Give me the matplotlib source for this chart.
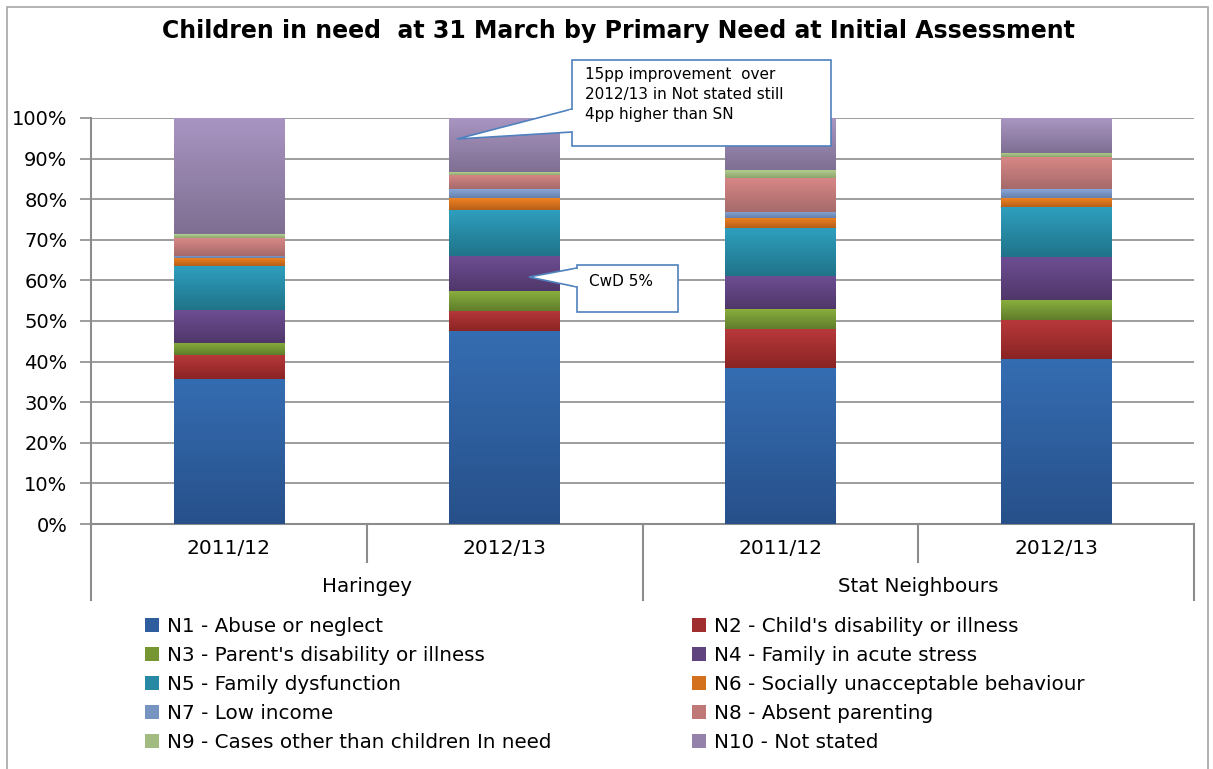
import numpy as np
import matplotlib
matplotlib.use("Agg")
import matplotlib.pyplot as plt
from matplotlib.patches import Patch, Rectangle, Polygon
from matplotlib.colors import to_rgb

plt.rcParams['font.family'] = ['DejaVu Sans']

# ---------------- data ----------------
title = "Children in need  at 31 March by Primary Need at Initial Assessment"
years = ["2011/12", "2012/13", "2011/12", "2012/13"]
groups = ["Haringey", "Stat Neighbours"]
series_names = [
    "N1 - Abuse or neglect",
    "N2 - Child's disability or illness",
    "N3 - Parent's disability or illness",
    "N4 - Family in acute stress",
    "N5 - Family dysfunction",
    "N6 - Socially unacceptable behaviour",
    "N7 - Low income",
    "N8 - Absent parenting",
    "N9 - Cases other than children In need",
    "N10 - Not stated",
]
N1 = [35.7, 47.5, 38.4, 40.6]
N2 = [5.9, 5.0, 9.6, 9.6]
N3 = [3.0, 4.9, 4.9, 4.9]
N4 = [8.2, 8.7, 8.3, 10.6]
N5 = [10.8, 11.3, 11.6, 12.3]
N6 = [2.0, 2.9, 2.5, 2.2]
N7 = [0.5, 2.2, 1.5, 2.2]
N8 = [4.4, 3.5, 8.4, 8.1]
N9 = [0.9, 0.7, 2.0, 1.0]
N10 = [28.6, 13.3, 12.8, 8.4]
series_values = [N1, N2, N3, N4, N5, N6, N7, N8, N9, N10]
yticks = [0, 10, 20, 30, 40, 50, 60, 70, 80, 90, 100]
ytick_labels = ["0%", "10%", "20%", "30%", "40%", "50%", "60%", "70%", "80%", "90%", "100%"]
note1 = "15pp improvement  over\n2012/13 in Not stated still\n4pp higher than SN"
note2 = "CwD 5%"

# gradient colours (top, bottom) for each series
top_cols = ["#356db2", "#b8383a", "#8aae3e", "#6e4e94", "#2e9fbe",
            "#f08222", "#88a6d8", "#d98886", "#b6d292", "#a995c2"]
bot_cols = ["#27508a", "#8a2424", "#5f7d2b", "#4f3769", "#207389",
            "#b65f1a", "#6680aa", "#a56a6a", "#8ea46e", "#7e6f92"]
mid_cols = ["#2e5e9e", "#a12e2e", "#769634", "#5f437f", "#2789a4",
            "#d3711e", "#7793c1", "#bf7978", "#a2bb80", "#9482aa"]

W, H = 1213, 769
fig = plt.figure(figsize=(W / 100, H / 100), dpi=100)

def fx(px):
    return px / W

def fy(py):
    return 1 - py / H

FS = 14.3

# outer chart border
fig.patches.append(Rectangle((fx(7), fy(790)), fx(1208) - fx(7), fy(7) - fy(790),
                             transform=fig.transFigure, fill=False,
                             edgecolor="#a6a6a6", linewidth=1.2))

L, R, T, B = 91, 1194, 118, 524
ax = fig.add_axes([fx(L), fy(B), fx(R) - fx(L), fy(T) - fy(B)])

x = np.arange(len(years)) + 0.5
bw = 0.40
bottom = np.zeros(len(years))
for i, vals in enumerate(series_values):
    bars = ax.bar(x, vals, bw, bottom=bottom, color=mid_cols[i], linewidth=0, zorder=2)
    c0 = np.array(to_rgb(top_cols[i]))
    c1 = np.array(to_rgb(bot_cols[i]))
    grad = np.linspace(0, 1, 256)[:, None]
    img = (c0[None, :] * (1 - grad) + c1[None, :] * grad)[:, None, :]
    for p in bars.patches:
        x0, y0 = p.get_x(), p.get_y()
        ax.imshow(img, extent=[x0, x0 + p.get_width(), y0, y0 + p.get_height()],
                  aspect="auto", origin="upper", zorder=3, interpolation="bilinear")
    bottom += np.array(vals)

ax.set_xlim(0, 4)
ax.set_ylim(0, 100)
ax.set_yticks(yticks)
ax.set_yticklabels(ytick_labels, fontsize=14)
ax.yaxis.grid(True, color="#8c8c8c", linewidth=1.2, zorder=0)
ax.set_axisbelow(True)
ax.tick_params(axis="y", length=8, width=1.2, color="#8c8c8c", pad=9)
ax.set_xticks([])
for s in ["top", "right"]:
    ax.spines[s].set_visible(False)
ax.spines["left"].set_color("#8c8c8c")
ax.spines["left"].set_linewidth(1.5)
ax.spines["bottom"].set_color("#8c8c8c")
ax.spines["bottom"].set_linewidth(1.5)

# multi-level category axis
tr = ax.transAxes
ppx = 1 / 406.0
ax.plot([0, 0], [0, -76 * ppx], color="#8c8c8c", lw=1.5, transform=tr, clip_on=False)
ax.plot([1, 1], [0, -76 * ppx], color="#8c8c8c", lw=1.5, transform=tr, clip_on=False)
ax.plot([0.5, 0.5], [0, -76 * ppx], color="#8c8c8c", lw=1.5, transform=tr, clip_on=False)
for xx in [0.25, 0.75]:
    ax.plot([xx, xx], [0, -38 * ppx], color="#8c8c8c", lw=1.5, transform=tr, clip_on=False)
for i, lab in enumerate(years):
    ax.text(x[i] / 4, -25 * ppx, lab, transform=tr, ha="center", va="center", fontsize=14.5)
for j, g in enumerate(groups):
    ax.text(0.25 + 0.5 * j, -63 * ppx, g, transform=tr, ha="center", va="center", fontsize=14.3)

# title
fig.text(fx(618), fy(31), title, ha="center", va="center", fontsize=17, fontweight="bold")

# callouts (figure pixel positions)
def callout(box, tip, base, text, fs, tx, ty):
    bx0, by0, bx1, by1 = box
    fig.patches.append(Rectangle((fx(bx0), fy(by1)), fx(bx1) - fx(bx0), fy(by0) - fy(by1),
                                 transform=fig.transFigure, facecolor="white",
                                 edgecolor="#4f81bd", linewidth=1.2, zorder=10))
    wedge = Polygon([(fx(bx0), fy(base[0])), (fx(tip[0]), fy(tip[1])), (fx(bx0), fy(base[1]))],
                    closed=False, transform=fig.transFigure, facecolor="white",
                    edgecolor="#4f81bd", linewidth=1.2, zorder=11)
    fig.patches.append(wedge)
    fig.patches.append(Polygon([(fx(bx0 + 1.5), fy(base[0] + 1)), (fx(bx0 + 1.5), fy(base[1] - 1)),
                                (fx(bx0 - 3), fy(base[1] - 1)), (fx(bx0 - 3), fy(base[0] + 1))],
                               transform=fig.transFigure, facecolor="white",
                               edgecolor="none", zorder=12))
    fig.text(fx(tx), fy(ty), text, ha="left", va="top", fontsize=fs,
             linespacing=1.4, zorder=13)

callout((572, 60, 831, 146), (457, 139), (109, 132), note1, 11, 585, 67)
callout((577, 265, 678, 312), (529, 277), (268, 287), note2, 11, 589, 274)

# legend (two columns, row-wise order)
handles = [Patch(facecolor=mid_cols[i], edgecolor="none") for i in range(10)]
leg_kw = dict(frameon=False, fontsize=FS, handlelength=0.72, handleheight=0.72,
              handletextpad=0.4, labelspacing=0.5, borderaxespad=0, borderpad=0)
leg1 = fig.legend([handles[i] for i in [0, 2, 4, 6, 8]],
                  [series_names[i] for i in [0, 2, 4, 6, 8]],
                  loc="upper left", bbox_to_anchor=(fx(145), fy(617)), **leg_kw)
leg2 = fig.legend([handles[i] for i in [1, 3, 5, 7, 9]],
                  [series_names[i] for i in [1, 3, 5, 7, 9]],
                  loc="upper left", bbox_to_anchor=(fx(692), fy(617)), **leg_kw)

fig.savefig("out.png", dpi=100)
